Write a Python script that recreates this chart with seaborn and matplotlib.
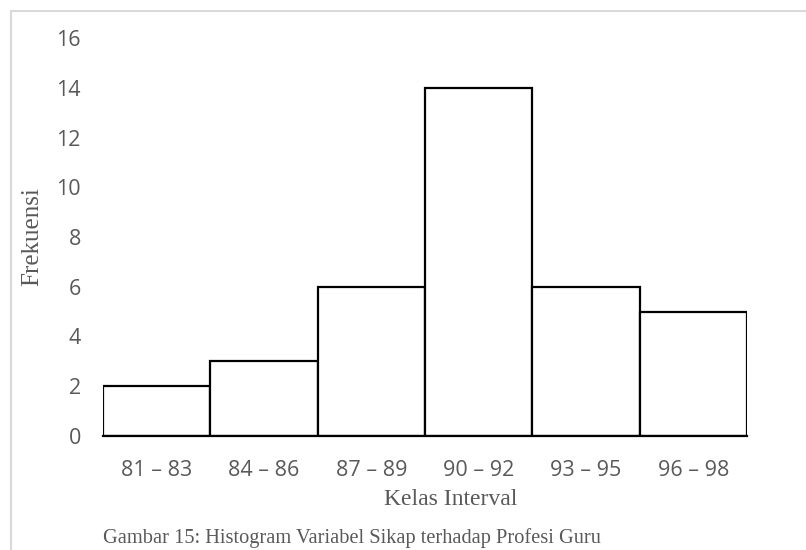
import matplotlib
matplotlib.use("Agg")
import matplotlib.pyplot as plt
import seaborn as sns
import pandas as pd
from matplotlib.lines import Line2D

# data
kelas = ["81 – 83", "84 – 86", "87 – 89", "90 – 92", "93 – 95", "96 – 98"]
frekuensi = [2, 3, 6, 14, 6, 5]
yticks = [0, 2, 4, 6, 8, 10, 12, 14, 16]

df = pd.DataFrame({"Kelas Interval": kelas, "Frekuensi": frekuensi})

sns.set_style("white")
plt.rcParams['font.family'] = ['Open Sans', 'DejaVu Sans']

fig = plt.figure(figsize=(8.06, 5.5), dpi=100)
ax = fig.add_axes([103/806, 1-436/550, 644/806, 398/550])

sns.barplot(data=df, x="Kelas Interval", y="Frekuensi", color="white",
            saturation=1, edgecolor="black", linewidth=1.6, width=1.0, ax=ax)

ax.set_ylim(0, 16)
ax.set_yticks(yticks)
ax.set_xlim(-0.5, len(kelas) - 0.5)
ax.tick_params(axis="both", length=0, labelsize=15.5, labelcolor="#595959")
ax.tick_params(axis="x", pad=17)
ax.tick_params(axis="y", pad=16)

sns.despine(ax=ax, left=True)
ax.spines["bottom"].set_color("black")
ax.spines["bottom"].set_linewidth(1.6)

ax.set_xlabel("Kelas Interval", family="Liberation Serif", fontsize=17, color="#595959")
ax.set_ylabel("Frekuensi", family="Liberation Serif", fontsize=18, color="#595959")
ax.xaxis.set_label_coords(0.54, -69/398)
ax.xaxis.label.set_va("baseline")
ax.yaxis.set_label_coords(-71/644, 0.5)
ax.yaxis.label.set_va("center")

fig.text(103/806, 1-543/550, "Gambar 15: Histogram Variabel Sikap terhadap Profesi Guru",
         family="Liberation Serif", fontsize=14.7, color="#595959", va="baseline", ha="left")

# light frame of the chart area (top and left only)
fig.add_artist(Line2D([11/806, 1], [1-11/550, 1-11/550], color="#d9d9d9", lw=1.5,
                      transform=fig.transFigure))
fig.add_artist(Line2D([11/806, 11/806], [0, 1-11/550], color="#d9d9d9", lw=1.5,
                      transform=fig.transFigure))

fig.savefig("out.png", dpi=100)
